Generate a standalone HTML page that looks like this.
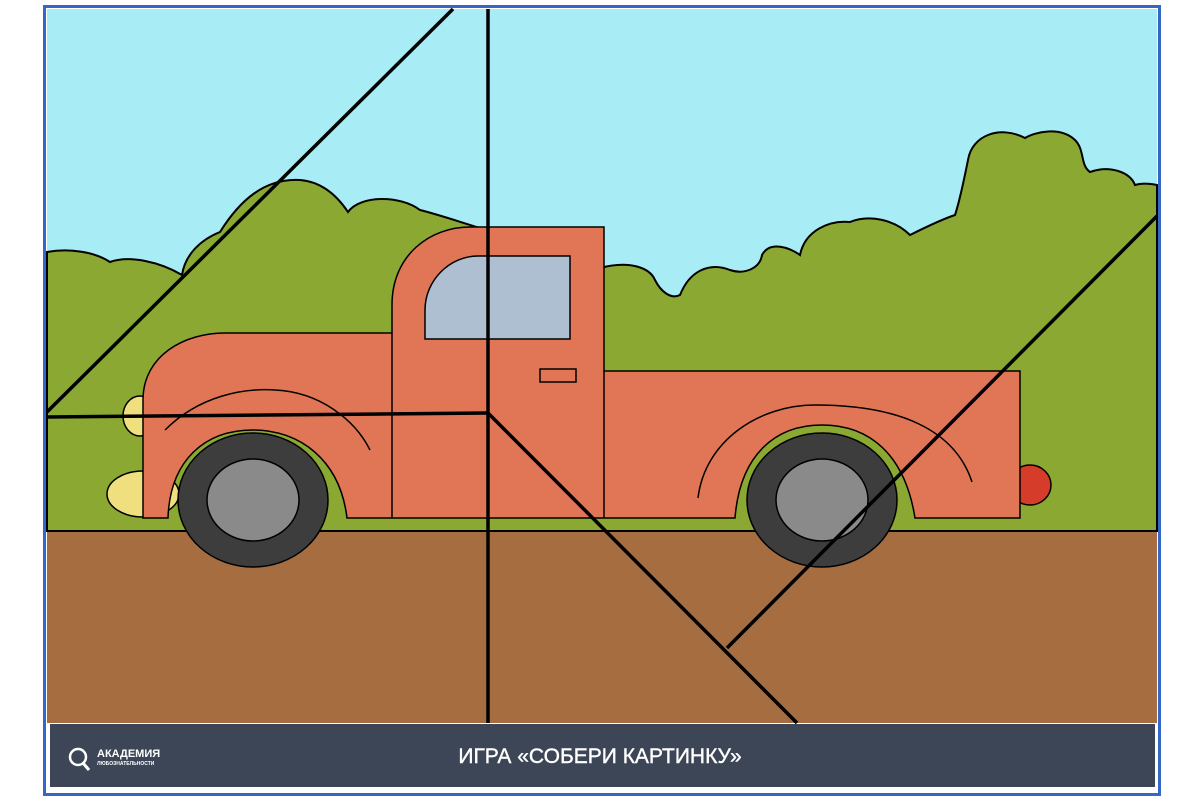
<!DOCTYPE html>
<html><head><meta charset="utf-8"><style>
html,body{margin:0;padding:0;background:#fff;width:1200px;height:800px;overflow:hidden}
</style></head><body>
<svg width="1200" height="800" viewBox="0 0 1200 800" xmlns="http://www.w3.org/2000/svg">
<rect x="0" y="0" width="1200" height="800" fill="#fff"/>
<rect x="44.5" y="6.5" width="1115" height="788" fill="#fff" stroke="#3568c4" stroke-width="3"/>
<rect x="47" y="9" width="1110" height="714" fill="#a8ecf5"/>
<path d="M47 252 C70 248 95 252 110 262 C130 255 160 262 182 275 C185 255 200 240 220 232 C240 200 265 178 300 180 C325 182 340 200 348 212 C360 195 400 195 420 210 C440 215 460 222 480 228 L600 240 L600 268 C630 260 650 268 655 280 C660 290 670 300 680 295 C690 270 710 262 730 270 C745 275 760 268 762 255 C770 240 790 248 800 255 C805 230 830 220 850 222 C870 214 895 220 910 235 C920 230 940 220 955 215 C960 200 965 175 968 160 C972 135 1000 125 1025 138 C1035 132 1060 126 1075 140 C1085 150 1080 165 1090 172 C1110 165 1130 172 1135 185 C1145 182 1157 185 1157 185 L1157 531 L47 531 Z" fill="#8aa832" stroke="#000" stroke-width="2"/>
<rect x="47" y="531" width="1110" height="192" fill="#a56d40"/>
<line x1="47" y1="531" x2="1157" y2="531" stroke="#000" stroke-width="2"/>
<ellipse cx="140" cy="416" rx="17" ry="20" fill="#efdf7e" stroke="#000" stroke-width="1.5"/>
<ellipse cx="143" cy="494" rx="36" ry="23" fill="#efdf7e" stroke="#000" stroke-width="1.5"/>
<ellipse cx="1030" cy="485" rx="21" ry="20" fill="#d63c2a" stroke="#000" stroke-width="1.5"/>
<path d="M143 518 L143 400 C143 355 185 333 225 333 L392 333 L392 305 C392 255 430 227 470 227 L604 227 L604 371 L1020 371 L1020 518 L915 518 C905 455 870 425 822 425 C775 425 740 455 735 518 L347 518 C340 460 300 430 253 430 C205 430 170 460 168 518 Z" fill="#e07656" stroke="#000" stroke-width="1.5"/>
<line x1="392" y1="333" x2="392" y2="518" stroke="#000" stroke-width="1.5"/>
<line x1="604" y1="371" x2="604" y2="518" stroke="#000" stroke-width="1.5"/>
<path d="M425 339 L425 310 C425 280 450 256 478 256 L570 256 L570 339 Z" fill="#adbfd0" stroke="#000" stroke-width="1.5"/>
<rect x="540" y="369" width="36" height="13" fill="#e07656" stroke="#000" stroke-width="1.5"/>
<path d="M165 430 C200 395 245 388 275 390 C320 392 355 420 370 450" fill="none" stroke="#000" stroke-width="1.5"/>
<path d="M698 498 C705 440 760 405 815 405 C900 405 955 430 972 482" fill="none" stroke="#000" stroke-width="1.5"/>
<ellipse cx="253" cy="500" rx="75" ry="67" fill="#3d3d3d" stroke="#000" stroke-width="1.5"/>
<ellipse cx="253" cy="500" rx="46" ry="41" fill="#8a8a8a" stroke="#000" stroke-width="1.5"/>
<ellipse cx="822" cy="500" rx="75" ry="67" fill="#3d3d3d" stroke="#000" stroke-width="1.5"/>
<ellipse cx="822" cy="500" rx="46" ry="41" fill="#8a8a8a" stroke="#000" stroke-width="1.5"/>
<g stroke="#000" stroke-width="3.5" fill="none">
<line x1="453" y1="9" x2="47" y2="412"/>
<line x1="488" y1="9" x2="488" y2="723"/>
<line x1="47" y1="417" x2="488" y2="413"/>
<line x1="488" y1="413" x2="797" y2="723"/>
<line x1="1157" y1="216" x2="727" y2="648"/>
</g>
<rect x="50" y="724" width="1105" height="63" fill="#3d4656"/>
<circle cx="78" cy="757" r="8" fill="none" stroke="#fff" stroke-width="2.5"/>
<line x1="83" y1="763" x2="89" y2="770" stroke="#fff" stroke-width="3"/>
<text x="97" y="757" font-family="Liberation Sans, sans-serif" font-weight="bold" font-size="11" fill="#fff">АКАДЕМИЯ</text>
<text x="97" y="765" font-family="Liberation Sans, sans-serif" font-weight="bold" font-size="5" fill="#fff">ЛЮБОЗНАТЕЛЬНОСТИ</text>
<text x="600" y="763" text-anchor="middle" font-family="Liberation Sans, sans-serif" font-size="21" fill="#fff" stroke="#fff" stroke-width="0.4">ИГРА «СОБЕРИ КАРТИНКУ»</text>
</svg>
</body></html>
